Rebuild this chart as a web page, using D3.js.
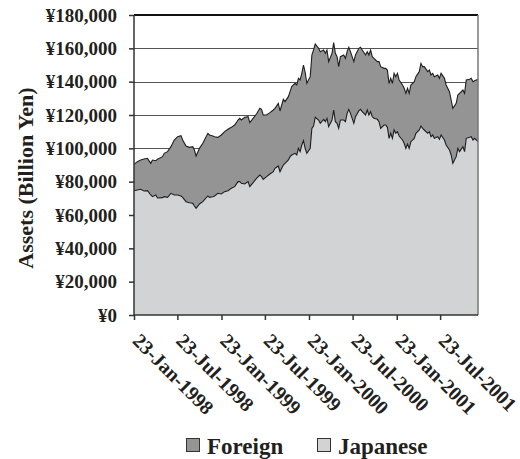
<!DOCTYPE html>
<html>
<head>
<meta charset="utf-8">
<script src="https://cdn.jsdelivr.net/npm/d3@7"></script>
<style>
  body { margin: 0; background: #fff; }
  text { font-family: "Liberation Serif", "Times New Roman", serif; font-weight: bold; fill: #231f20; }
</style>
</head>
<body>
<div id="chart"></div>
<script>
// ---- data: weekly observations, weeks counted from 23-Jan-1998 ----
var startDate = new Date(1998, 0, 23);
var endWeek = 205;

var weekNo = [0,2,4,6,8,10,11,13,14,17,18,20,22,24,26,28,29,31,33,35,
  36,37,39,41,44,45,47,48,50,52,54,56,58,60,62,63,64,66,68,69,
  71,73,75,76,77,79,81,83,84,86,87,89,90,92,93,94,96,97,98,99,
  100,101,102,103,105,106,107,108,110,111,113,114,115,116,118,119,120,121,122,123,
  125,126,127,128,129,131,132,134,135,136,138,139,140,141,142,143,145,146,147,149,
  150,151,152,153,154,155,156,157,158,160,161,162,163,164,165,167,168,170,171,172,
  173,175,176,177,178,179,181,182,183,185,186,188,189,190,192,193,194,196,197,198,
  200,201,202,203,205];

// Japanese assets (billion yen)
var japanese = [74600,75000,75400,74400,74600,72000,71000,72000,70200,70400,
  71000,70600,73000,72000,72000,71400,70600,68000,67400,67000,
  65400,64000,66600,68000,71400,70600,71000,71400,73000,72600,
  74000,74600,76000,77000,80000,80000,79000,78600,80000,77000,
  79400,82000,84000,83000,81400,83000,84600,86000,88000,89400,
  86000,90000,91000,93000,95000,96000,97000,96000,100000,98000,
  102000,104600,100000,97000,100000,112000,113400,118600,117000,115000,
  117400,116000,118000,113000,117000,123000,116000,115000,112000,117000,
  117000,116000,121000,123400,121000,115000,119000,122600,123400,122000,
  120000,123000,120000,122000,119000,118000,117400,116000,112000,114000,
  114000,112600,106000,109000,106000,111000,109000,110000,107400,105000,
  103000,100000,102600,100000,104000,106000,109000,111000,113400,112000,
  111000,109000,110000,107000,108000,106000,107000,105400,108000,105000,
  102000,99000,96000,91000,95000,100000,98000,101000,98000,106000,
  106600,107000,105000,106000,104000];

// Foreign assets (billion yen), stacked on top
var foreign = [15800,17000,17600,19200,19400,19000,22000,20600,23200,24600,
  26000,27400,28000,33000,35000,36200,34400,33400,33200,34000,
  33600,31400,33400,35000,37600,37400,36400,35600,33600,35400,
  36000,36800,36600,37000,37000,38000,38000,40000,39000,38400,
  38600,38600,40000,40400,38600,37000,36800,37000,36000,37600,
  36400,39400,37000,38000,39000,41000,42000,42000,42000,43000,
  43000,45400,45600,42000,43000,44000,45600,44000,43000,43000,
  41600,41000,41000,39000,40000,40400,41000,40000,37000,38000,
  39000,38000,37000,37200,37000,37000,37000,37400,37200,37000,
  36000,35000,36000,37000,36000,36000,34600,36000,37000,34000,
  34000,34400,33000,33000,33000,34000,34000,35000,33600,33000,
  33000,33000,33400,33000,34000,34000,34000,35000,37600,37000,
  38000,37000,37000,37000,37000,37000,37000,36600,37000,37000,
  36000,35000,33000,33000,32000,32000,35000,34000,35000,35000,
  34800,35000,35000,34600,37400];

var xTickLabels = ["1998-01-23","1998-07-23","1999-01-23","1999-07-23",
  "2000-01-23","2000-07-23","2001-01-23","2001-07-23"];
var yTicks = [0,20000,40000,60000,80000,100000,120000,140000,160000,180000];
var seriesKeys = ["japanese", "foreign"];
var seriesNames = { foreign: "Foreign", japanese: "Japanese" };
var seriesColors = { foreign: "#949494", japanese: "#d2d3d5" };

// ---- layout ----
var width = 520, height = 459;
var plot = { left: 134, right: 478, top: 15, bottom: 315 };

var svg = d3.select("#chart").append("svg")
    .attr("width", width)
    .attr("height", height);

var parseDate = d3.timeParse("%Y-%m-%d");

var rows = weekNo.map(function (w, i) {
    return { date: d3.timeDay.offset(startDate, w * 7), japanese: japanese[i], foreign: foreign[i] };
});

var x = d3.scaleTime()
    .domain([startDate, d3.timeDay.offset(startDate, endWeek * 7)])
    .range([plot.left, plot.right]);

var y = d3.scaleLinear()
    .domain([0, 180000])
    .range([plot.bottom, plot.top]);

// gridlines
svg.append("g")
    .selectAll("line")
    .data(yTicks.filter(function (d) { return d > 0 && d < 180000; }))
    .enter().append("line")
    .attr("x1", plot.left).attr("x2", plot.right)
    .attr("y1", function (d) { return Math.round(y(d)) + 0.5; })
    .attr("y2", function (d) { return Math.round(y(d)) + 0.5; })
    .attr("stroke", "#555")
    .attr("stroke-width", 1);

// stacked areas
var stacked = d3.stack().keys(seriesKeys)(rows);

var area = d3.area()
    .x(function (d) { return x(d.data.date); })
    .y0(function (d) { return y(d[0]); })
    .y1(function (d) { return y(d[1]); });

var topLine = d3.line()
    .x(function (d) { return x(d.data.date); })
    .y(function (d) { return y(d[1]); });

svg.append("g").selectAll("path")
    .data(stacked)
    .enter().append("path")
    .attr("d", area)
    .attr("fill", function (d) { return seriesColors[d.key]; });

svg.append("g").selectAll("path")
    .data(stacked)
    .enter().append("path")
    .attr("d", topLine)
    .attr("fill", "none")
    .attr("stroke", "#1e1e1e")
    .attr("stroke-width", 1.1);

// frame: top (black) and right (grey)
svg.append("line")
    .attr("x1", plot.left).attr("x2", plot.right)
    .attr("y1", plot.top).attr("y2", plot.top)
    .attr("stroke", "#111").attr("stroke-width", 2);
svg.append("line")
    .attr("x1", plot.right).attr("x2", plot.right)
    .attr("y1", plot.top).attr("y2", plot.bottom)
    .attr("stroke", "#777").attr("stroke-width", 1.5);

// y axis
var yAxis = svg.append("g")
    .attr("transform", "translate(" + plot.left + ",0)")
    .call(d3.axisLeft(y)
        .tickValues(yTicks)
        .tickSize(5)
        .tickPadding(12)
        .tickFormat(function (d) { return "\u00a5" + d3.format(",")(d); }));

yAxis.selectAll("path, line").attr("stroke", "#333").attr("stroke-width", 1.5);
yAxis.select(".domain").attr("d", "M0," + plot.top + "V" + plot.bottom);
yAxis.selectAll("text")
    .attr("font-family", null)
    .style("font-size", "19px");

// x axis
var xAxis = svg.append("g")
    .attr("transform", "translate(0," + plot.bottom + ")")
    .call(d3.axisBottom(x)
        .tickValues(xTickLabels.map(parseDate))
        .tickSize(5)
        .tickFormat(d3.timeFormat("%d-%b-%Y")));

xAxis.selectAll("path, line").attr("stroke", "#333").attr("stroke-width", 1.5);
xAxis.select(".domain").attr("d", "M" + plot.left + ",0H" + plot.right);
xAxis.selectAll("text")
    .attr("font-family", null)
    .style("font-size", "20px")
    .attr("text-anchor", "start")
    .attr("x", 0).attr("y", 0).attr("dy", 0)
    .attr("transform", "translate(-3,27) rotate(45)");

// axis title
svg.append("text")
    .attr("transform", "translate(33,178) rotate(-90)")
    .attr("text-anchor", "middle")
    .style("font-size", "22px")
    .text("Assets (Billion Yen)");

// legend
var legendItems = [
    { key: "foreign", x: 186 },
    { key: "japanese", x: 317 }
];

var legend = svg.append("g").selectAll("g")
    .data(legendItems)
    .enter().append("g")
    .attr("transform", function (d) { return "translate(" + d.x + ",438)"; });

legend.append("rect")
    .attr("x", 0.5).attr("y", 0.5)
    .attr("width", 13).attr("height", 13)
    .attr("fill", function (d) { return seriesColors[d.key]; })
    .attr("stroke", "#333");

legend.append("text")
    .attr("x", 21)
    .attr("y", 16)
    .style("font-size", "23px")
    .text(function (d) { return seriesNames[d.key]; });
</script>
</body>
</html>
